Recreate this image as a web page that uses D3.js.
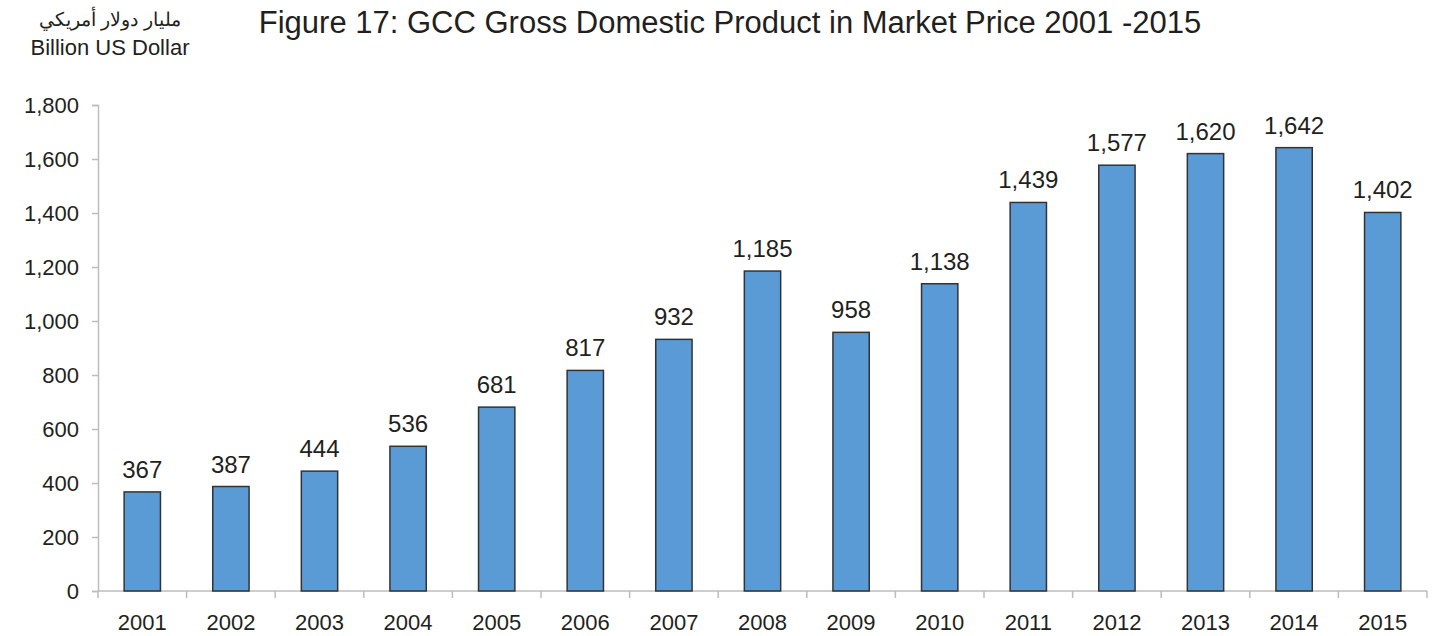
<!DOCTYPE html>
<html>
<head>
<meta charset="utf-8">
<script src="https://cdn.jsdelivr.net/npm/d3@7"></script>
<style>
  body { margin: 0; background: #fff; }
  svg text { font-family: "Liberation Sans", Arial, sans-serif; fill: #231f20; }
</style>
</head>
<body>
<div id="chart"></div>
<script>
const years = ["2001","2002","2003","2004","2005","2006","2007","2008","2009","2010","2011","2012","2013","2014","2015"];
const gdp = [367, 387, 444, 536, 681, 817, 932, 1185, 958, 1138, 1439, 1577, 1620, 1642, 1402];
const yTicks = [0, 200, 400, 600, 800, 1000, 1200, 1400, 1600, 1800];

const width = 1442, height = 636;
const margin = {left: 98, right: 15, top: 105, bottom: 45};

const svg = d3.select("#chart").append("svg")
  .attr("width", width)
  .attr("height", height);

const x = d3.scaleBand()
  .domain(years)
  .range([margin.left, width - margin.right])
  .paddingInner(0.59)
  .paddingOuter(0.295);

const y = d3.scaleLinear()
  .domain([0, 1800])
  .range([height - margin.bottom, margin.top]);

// y axis
const yAxis = svg.append("g")
  .attr("transform", `translate(${margin.left},0)`)
  .call(d3.axisLeft(y).tickValues(yTicks).tickSize(6).tickPadding(13).tickFormat(d3.format(",")));
yAxis.select(".domain").attr("stroke", "#bdbdbd").attr("stroke-width", 1.5);
yAxis.selectAll(".tick line").attr("stroke", "#bdbdbd").attr("stroke-width", 1.5);
yAxis.selectAll(".tick text").attr("font-size", 22).attr("fill", "#231f20")
  .attr("font-family", "'Liberation Sans', Arial, sans-serif");

// x axis, ticks at band boundaries
const step = x.step();
const xa = svg.append("g");
xa.append("line")
  .attr("x1", margin.left).attr("x2", width - margin.right)
  .attr("y1", y(0)).attr("y2", y(0))
  .attr("stroke", "#bdbdbd").attr("stroke-width", 1.5);
xa.selectAll("line.tk")
  .data(d3.range(years.length + 1))
  .join("line")
  .attr("class", "tk")
  .attr("x1", i => margin.left + i * step)
  .attr("x2", i => margin.left + i * step)
  .attr("y1", y(0)).attr("y2", y(0) + 7)
  .attr("stroke", "#bdbdbd").attr("stroke-width", 1.5);
xa.selectAll("text")
  .data(years)
  .join("text")
  .attr("x", d => x(d) + x.bandwidth() / 2)
  .attr("y", y(0) + 39)
  .attr("text-anchor", "middle")
  .attr("font-size", 22)
  .text(d => d);

// bars
const data = years.map((yr, i) => ({year: yr, value: gdp[i]}));
svg.append("g")
  .selectAll("rect")
  .data(data)
  .join("rect")
  .attr("x", d => x(d.year))
  .attr("y", d => y(d.value))
  .attr("width", x.bandwidth())
  .attr("height", d => y(0) - y(d.value))
  .attr("fill", "#5b9bd5")
  .attr("stroke", "#333")
  .attr("stroke-width", 1.5);

// value labels
svg.append("g")
  .selectAll("text")
  .data(data)
  .join("text")
  .attr("x", d => x(d.year) + x.bandwidth() / 2)
  .attr("y", d => y(d.value) - 14)
  .attr("text-anchor", "middle")
  .attr("font-size", 24)
  .text(d => d3.format(",")(d.value));

// title
svg.append("text")
  .attr("x", 730)
  .attr("y", 33)
  .attr("text-anchor", "middle")
  .attr("font-size", 31)
  .text("Figure 17: GCC Gross Domestic Product in Market Price 2001 -2015");

// unit label
svg.append("text")
  .attr("x", 110)
  .attr("y", 26)
  .attr("text-anchor", "middle")
  .attr("font-size", 19)
  .attr("direction", "rtl")
  .text("مليار دولار أمريكي");
svg.append("text")
  .attr("x", 110)
  .attr("y", 55)
  .attr("text-anchor", "middle")
  .attr("font-size", 22)
  .text("Billion US Dollar");
</script>
</body>
</html>
